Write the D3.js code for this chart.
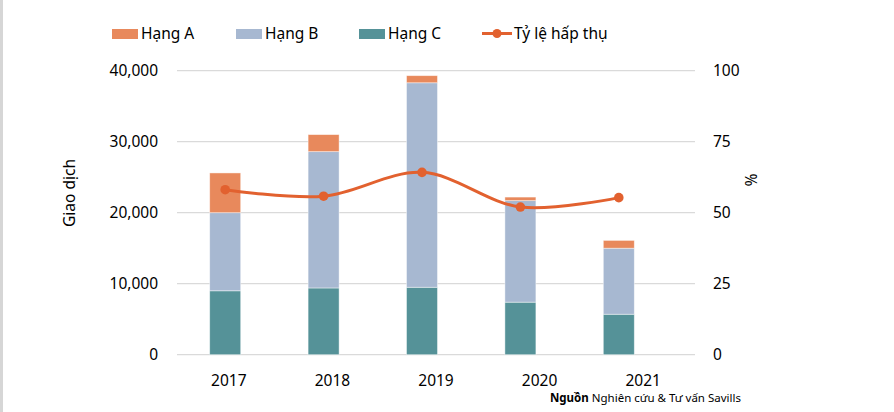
<!DOCTYPE html>
<html><head><meta charset="utf-8">
<script src="https://cdn.jsdelivr.net/npm/d3@7"></script>
<style>
html,body{margin:0;padding:0;background:#fff;}
svg{display:block;font-family:"Noto Sans","Open Sans",sans-serif;}
</style></head>
<body><svg id="c" width="894" height="412"></svg>
<script>
const years = ["2017","2018","2019","2020","2021"];
const hangC = [9000, 9400, 9500, 7400, 5700];
const hangB = [11000, 19200, 28800, 14300, 9300];
const hangA = [5600, 2400, 1000, 500, 1100];
const tyLe = [58.1, 55.8, 64.2, 52.0, 55.3];
const leftTicks = [0, 10000, 20000, 30000, 40000];
const rightTicks = [0, 25, 50, 75, 100];
const seriesNames = ["Hạng A", "Hạng B", "Hạng C", "Tỷ lệ hấp thụ"];

const colors = {A:"#E8895C", B:"#A7B8D1", C:"#559298", line:"#E2612F"};
const svg = d3.select("#c");

// left border
svg.append("rect").attr("x",0).attr("y",0).attr("width",3).attr("height",412).attr("fill","#d6d6d6");

const gridX0 = 177, gridX1 = 695, yTop = 70.7, yBot = 354.7;
const yL = d3.scaleLinear().domain([0,40000]).range([yBot,yTop]);
const yR = d3.scaleLinear().domain([0,100]).range([yBot,yTop]);
const xLab = d3.scaleBand().domain(years).range([gridX0,gridX1]);
const xBar = d3.scaleBand().domain(years).range([176,668]).paddingInner(0.685).paddingOuter(0.3425);

// gridlines
svg.append("g").selectAll("line").data(leftTicks).join("line")
  .attr("x1",gridX0).attr("x2",gridX1)
  .attr("y1",d=>yL(d)).attr("y2",d=>yL(d))
  .attr("stroke","#dadada").attr("stroke-width",1.3);

// left axis labels
const fmt = d3.format(",");
svg.append("g").selectAll("text").data(leftTicks).join("text")
  .attr("x",158).attr("y",d=>yL(d)).attr("dy","0.35em")
  .attr("text-anchor","end").attr("font-size",15.5).attr("fill","#000")
  .text(d=>fmt(d));
// right axis labels
svg.append("g").selectAll("text").data(rightTicks).join("text")
  .attr("x",713).attr("y",d=>yR(d)).attr("dy","0.35em")
  .attr("text-anchor","start").attr("font-size",15.5).attr("fill","#000")
  .text(d=>d);

// axis titles
svg.append("text").attr("transform","translate(70,193) rotate(-90)")
  .attr("text-anchor","middle").attr("dy","0.35em").attr("font-size",15.5).text("Giao dịch");
svg.append("text").attr("transform","translate(750,180) rotate(90)")
  .attr("text-anchor","middle").attr("dy","0.35em").attr("font-size",15.5).text("%");

// stacked bars
const rows = years.map((y,i)=>({year:y, C:hangC[i], B:hangB[i], A:hangA[i]}));
const stack = d3.stack().keys(["C","B","A"])(rows);
svg.append("g").selectAll("g").data(stack).join("g")
  .attr("fill",d=>colors[d.key])
  .selectAll("rect").data(d=>d).join("rect")
  .attr("x",d=>xBar(d.data.year)).attr("width",xBar.bandwidth())
  .attr("y",d=>yL(d[1])).attr("height",d=>yL(d[0])-yL(d[1]))
  .attr("stroke","rgba(255,255,255,0.55)").attr("stroke-width",0.8);

// line
const pts = years.map((y,i)=>[xBar(y)+xBar.bandwidth()/2, yR(tyLe[i])]);
svg.append("path").datum(pts)
  .attr("d",d3.line().curve(d3.curveCatmullRom.alpha(0.5)))
  .attr("fill","none").attr("stroke",colors.line).attr("stroke-width",3);
svg.append("g").selectAll("circle").data(pts).join("circle")
  .attr("cx",d=>d[0]).attr("cy",d=>d[1]).attr("r",4.8).attr("fill",colors.line);

// x labels
svg.append("g").selectAll("text").data(years).join("text")
  .attr("x",d=>xLab(d)+xLab.bandwidth()/2).attr("y",381).attr("dy","0.35em")
  .attr("text-anchor","middle").attr("font-size",15.5).text(d=>d);

// legend
const legX = [112, 236, 359, 482];
const lg = svg.append("g");
[colors.A, colors.B, colors.C].forEach((c,i)=>{
  lg.append("rect").attr("x",legX[i]).attr("y",29).attr("width",26).attr("height",10).attr("fill",c);
  lg.append("text").attr("x",legX[i]+29).attr("y",34).attr("dy","0.35em")
    .attr("font-size",15.5).text(seriesNames[i]);
});
lg.append("line").attr("x1",legX[3]).attr("x2",legX[3]+30).attr("y1",33.5).attr("y2",33.5)
  .attr("stroke",colors.line).attr("stroke-width",3);
lg.append("circle").attr("cx",legX[3]+15).attr("cy",33.5).attr("r",4.5).attr("fill",colors.line);
lg.append("text").attr("x",legX[3]+32).attr("y",34).attr("dy","0.35em")
  .attr("font-size",15.5).text(seriesNames[3]);

// source
const src = svg.append("text").attr("x",550).attr("y",398).attr("dy","0.35em").attr("font-size",11.5);
src.append("tspan").attr("font-weight","bold").text("Nguồn");
src.append("tspan").text(" Nghiên cứu & Tư vấn Savills");
</script></body></html>
